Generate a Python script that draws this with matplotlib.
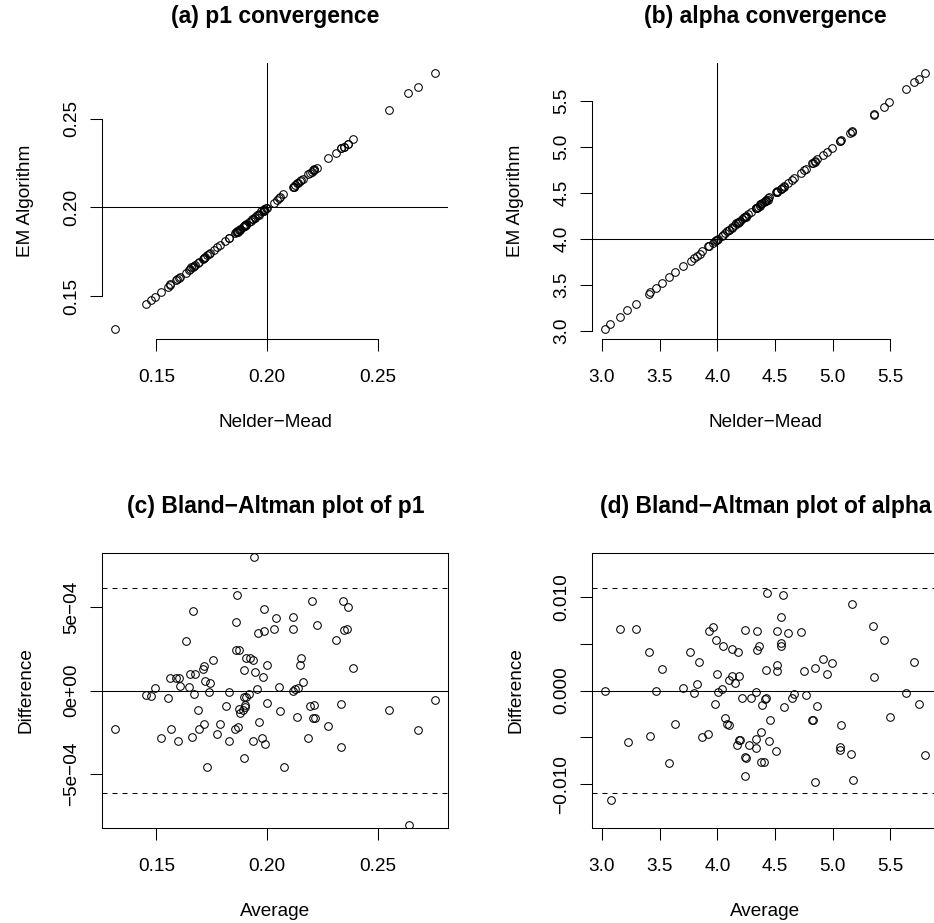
import matplotlib
matplotlib.use("Agg")
import numpy as np
import matplotlib.pyplot as plt

plt.rcParams['font.family'] = ['Liberation Sans', 'DejaVu Sans']
plt.rcParams['lines.scale_dashes'] = False

p1_avg = [0.1313, 0.1453, 0.1476, 0.1492, 0.1523, 0.1551, 0.1562, 0.1565, 0.1596, 0.1590,
          0.1604, 0.1607, 0.1633, 0.1646, 0.1652, 0.1660, 0.1664, 0.1672, 0.1673, 0.1688,
          0.1693, 0.1709, 0.1715, 0.1715, 0.1721, 0.1730, 0.1738, 0.1744, 0.1758, 0.1774,
          0.1788, 0.1813, 0.1828, 0.1828, 0.1855, 0.1861, 0.1861, 0.1864, 0.1867, 0.1875,
          0.1872, 0.1878, 0.1892, 0.1898, 0.1895, 0.1899, 0.1902, 0.1904, 0.1896, 0.1905,
          0.1917, 0.1925, 0.1936, 0.1936, 0.1942, 0.1946, 0.1955, 0.1960, 0.1963, 0.1976,
          0.1981, 0.1985, 0.1985, 0.1990, 0.2000, 0.1998, 0.2030, 0.2042, 0.2056, 0.2060,
          0.2075, 0.2119, 0.2119, 0.2117, 0.2128, 0.2136, 0.2139, 0.2148, 0.2154, 0.2164,
          0.2185, 0.2193, 0.2202, 0.2214, 0.2209, 0.2215, 0.2226, 0.2277, 0.2312, 0.2334,
          0.2334, 0.2343, 0.2346, 0.2363, 0.2364, 0.2387, 0.2553, 0.2643, 0.2681, 0.2759]
# diferencias en unidades de 1e-4
p1_diff_e4 = [-2.33, -0.26, -0.30, 0.16, -2.85, -0.44, 0.72, -2.33, -3.03, 0.72,
              0.72, 0.26, 2.97, 0.22, 0.96, -2.77, 4.78, -0.22, 0.96, -1.18,
              -2.33, 1.31, 1.47, -1.99, 0.56, -4.58, -0.06, 0.46, 1.85, -2.63,
              -2.01, -0.92, -0.06, -2.99, -2.33, 4.10, 2.41, 5.72, -2.21, 2.41,
              -1.08, -1.37, -1.18, 1.22, -0.40, -0.98, -0.84, 1.95, -4.06, -0.38,
              -0.22, 1.95, 1.81, -3.03, 7.99, 1.08, 0.06, 3.41, -1.91, -2.85,
              0.78, 4.86, 3.57, -3.17, 1.51, -0.74, 3.67, 4.32, 0.22, -1.24,
              -4.56, 4.42, 3.65, -0.02, 0.06, -1.57, 0.16, 1.53, 1.95, 0.48,
              -2.83, -0.94, 5.36, -0.86, -1.63, -1.63, 3.94, -2.13, 3.01, -0.82,
              -3.35, 5.36, 3.61, 3.65, 5.02, 1.35, -1.16, -8.05, -2.37, -0.56]

alpha_avg = [3.023, 3.075, 3.156, 3.223, 3.295, 3.405, 3.419, 3.471, 3.520, 3.581,
             3.636, 3.705, 3.766, 3.795, 3.821, 3.844, 3.870, 3.922, 3.925, 3.960,
             3.983, 3.988, 3.994, 4.003, 4.038, 4.046, 4.069, 4.087, 4.101, 4.101,
             4.127, 4.130, 4.156, 4.168, 4.179, 4.188, 4.185, 4.197, 4.217, 4.240,
             4.240, 4.251, 4.243, 4.272, 4.295, 4.335, 4.338, 4.338, 4.341, 4.347,
             4.364, 4.376, 4.382, 4.405, 4.390, 4.410, 4.419, 4.422, 4.434, 4.445,
             4.454, 4.509, 4.514, 4.517, 4.520, 4.552, 4.552, 4.555, 4.572, 4.575,
             4.613, 4.647, 4.668, 4.723, 4.749, 4.766, 4.824, 4.830, 4.844, 4.850,
             4.867, 4.913, 4.954, 4.997, 5.072, 5.064, 5.064, 5.156, 5.165, 5.176,
             5.353, 5.361, 5.442, 5.494, 5.633, 5.708, 5.746, 5.801]
# diferencias en unidades de 1e-3
alpha_diff_e3 = [0.00, -11.74, 6.58, -5.48, 6.58, 4.06, -4.84, 0.00, 2.31, -7.72,
                 -3.59, 0.28, 4.16, -0.28, 0.68, 3.02, -4.95, -4.66, 6.33, 6.80,
                 -1.39, 5.37, 1.81, -0.21, 0.14, 4.70, -2.95, -3.56, -3.63, 1.10,
                 4.48, 1.57, 0.75, -5.84, 4.06, 1.53, -5.30, -5.30, -0.82, -9.11,
                 -7.08, -7.19, 6.44, -5.87, -0.82, -0.21, -5.23, -6.16, 6.30, 4.34,
                 4.77, -4.41, -7.58, -7.62, -1.57, -0.89, -0.82, 2.21, 10.36, -5.44,
                 -3.17, -6.41, 6.30, 2.74, 2.03, 5.02, 4.80, 7.83, 10.21, -1.81,
                 6.12, -0.78, -0.39, 6.26, 2.10, -0.43, -3.17, -3.20, 2.38, -9.82,
                 -1.67, 3.31, 1.81, 2.95, -3.63, -6.01, -6.37, -6.80, 9.25, -9.54,
                 6.87, 1.49, 5.44, -2.78, -0.32, 3.06, -1.46, -6.90]

# media y limites de acuerdo
p1_lines = [-6.12e-4, 0.0, 6.12e-4]
alpha_lines = [-0.01093, 0.0, 0.01093]

# valores verdaderos (lineas de referencia)
p1_true = 0.20
alpha_true = 4.0

p1_avg = np.array(p1_avg)
p1_diff = np.array(p1_diff_e4) * 1e-4
alpha_avg = np.array(alpha_avg)
alpha_diff = np.array(alpha_diff_e3) * 1e-3

p1_nm = p1_avg + p1_diff / 2
p1_em = p1_avg - p1_diff / 2
alpha_nm = alpha_avg + alpha_diff / 2
alpha_em = alpha_avg - alpha_diff / 2

W, H = 934, 923
fig = plt.figure(figsize=(W / 100, H / 100), dpi=100)

FS = 13.7
TFS = 16.5
LW = 0.75


def make_ax(left, top, right, bottom):
    return fig.add_axes([left / W, 1 - bottom / H, (right - left) / W, (bottom - top) / H])


def style(ax, xticks, xlabels, yticks, ylabels, boxed, xlabel, ylabel, title, h_px, w_px):
    ax.set_xticks(xticks)
    ax.set_xticklabels(xlabels)
    ax.set_yticks(yticks)
    ax.set_yticklabels(ylabels)
    ax.tick_params(direction='out', length=8.3, width=LW, labelsize=FS, color='black')
    ax.tick_params(axis='x', pad=22.2)
    ax.tick_params(axis='y', pad=10.4)
    for lab in ax.get_xticklabels():
        lab.set_va('baseline')
    for lab in ax.get_yticklabels():
        lab.set_rotation(90)
        lab.set_rotation_mode('anchor')
        lab.set_ha('center')
        lab.set_va('baseline')
    for s in ax.spines.values():
        s.set_linewidth(LW)
    if not boxed:
        ax.spines['top'].set_visible(False)
        ax.spines['right'].set_visible(False)
        ax.spines['bottom'].set_bounds(xticks[0], xticks[-1])
        ax.spines['left'].set_bounds(yticks[0], yticks[-1])
    ax.set_xlabel(xlabel, fontsize=FS)
    ax.xaxis.set_label_coords(0.5, -88 / h_px)
    ax.xaxis.label.set_va('baseline')
    ax.set_ylabel(ylabel, fontsize=FS)
    ax.yaxis.set_label_coords(-72 / w_px, 0.5)
    ax.yaxis.label.set_va('baseline')
    ax.set_title(title, fontsize=TFS, fontweight='bold', pad=28.4)


def circles(ax, x, y):
    ax.plot(x, y, linestyle='none', marker='o', ms=5.5, mfc='none', mec='black', mew=LW)


# (a)
ax = make_ax(102.3, 62.7, 448.3, 339.3)
circles(ax, p1_nm, p1_em)
ax.axvline(p1_true, color='black', lw=LW)
ax.axhline(p1_true, color='black', lw=LW)
ax.set_xlim(0.12561, 0.28189)
ax.set_ylim(0.12554, 0.2818)
style(ax, [0.15, 0.20, 0.25], ['0.15', '0.20', '0.25'],
      [0.15, 0.20, 0.25], ['0.15', '0.20', '0.25'], False,
      'Nelder\u2212Mead', 'EM Algorithm', '(a) p1 convergence', 276.6, 346)

# (b)
ax = make_ax(592.3, 62.7, 938.3, 339.3)
circles(ax, alpha_nm, alpha_em)
ax.axvline(alpha_true, color='black', lw=LW)
ax.axhline(alpha_true, color='black', lw=LW)
ax.set_xlim(2.9159, 5.9162)
ax.set_ylim(2.9097, 5.920)
ab_ticks = [3.0, 3.5, 4.0, 4.5, 5.0, 5.5]
ab_labels = ['3.0', '3.5', '4.0', '4.5', '5.0', '5.5']
style(ax, ab_ticks, ab_labels, ab_ticks, ab_labels, False,
      'Nelder\u2212Mead', 'EM Algorithm', '(b) alpha convergence', 276.6, 346)

# (c)
ax = make_ax(102.3, 552.7, 448.3, 828.3)
circles(ax, p1_avg, p1_diff)
ax.axhline(p1_lines[1], color='black', lw=LW)
ax.axhline(p1_lines[0], color='black', lw=LW, linestyle=(0, (3.6, 3.6)))
ax.axhline(p1_lines[2], color='black', lw=LW, linestyle=(0, (3.6, 3.6)))
ax.set_xlim(0.12561, 0.28189)
ax.set_ylim(-8.24e-4, 8.24e-4)
style(ax, [0.15, 0.20, 0.25], ['0.15', '0.20', '0.25'],
      [-5e-4, 0, 5e-4], ['\u22125e\u221204', '0e+00', '5e\u221204'], True,
      'Average', 'Difference', '(c) Bland\u2212Altman plot of p1', 275.6, 346)

# (d)
ax = make_ax(592.3, 552.7, 938.3, 828.3)
circles(ax, alpha_avg, alpha_diff)
ax.axhline(alpha_lines[1], color='black', lw=LW)
ax.axhline(alpha_lines[0], color='black', lw=LW, linestyle=(0, (3.6, 3.6)))
ax.axhline(alpha_lines[2], color='black', lw=LW, linestyle=(0, (3.6, 3.6)))
ax.set_xlim(2.9159, 5.9162)
ax.set_ylim(-0.01471, 0.01471)
style(ax, ab_ticks, ab_labels,
      [-0.010, -0.005, 0.0, 0.005, 0.010], ['\u22120.010', '', '0.000', '', '0.010'], True,
      'Average', 'Difference', '(d) Bland\u2212Altman plot of alpha', 275.6, 346)

fig.savefig('out.png', dpi=100)
